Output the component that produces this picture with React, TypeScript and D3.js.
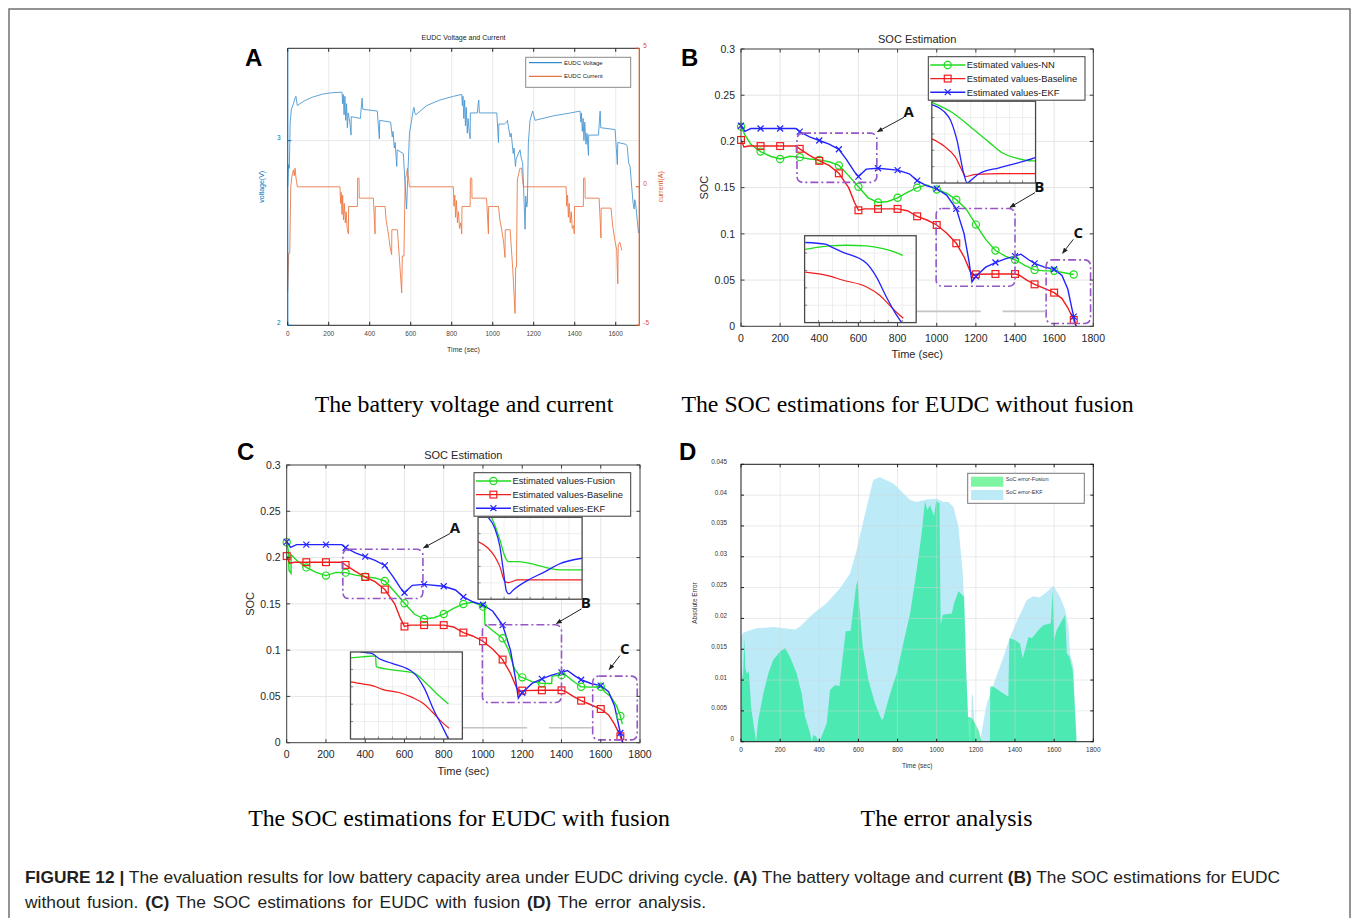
import React from 'react';
import * as d3 from 'd3';

const W = 1357;
const H = 918;
const SANS = "'Liberation Sans', Arial, Helvetica, sans-serif";
const SERIF = "'Liberation Serif', 'Times New Roman', serif";
const NARROW = "'Liberation Sans Narrow', 'Liberation Sans', Arial, sans-serif";

type Pt = [number, number];

// ---- panel A: EUDC voltage / current ----
const eudcVoltage: Pt[] = [
  [0, 2.75], [4, 2.87], [8, 2.85], [12, 3.1], [18, 3.17], [28, 3.2], [36, 3.23], [40, 3.24], [47, 3.19],
  [80, 3.215], [120, 3.235], [170, 3.252], [220, 3.26], [265, 3.262], [268, 3.2], [271, 3.25], [275, 3.14],
  [279, 3.24], [283, 3.11], [287, 3.2], [291, 3.07], [295, 3.15], [300, 3.12], [305, 3.08], [309, 3.03],
  [310, 3.13], [355, 3.12], [358, 3.17], [363, 3.23], [366, 3.17], [437, 3.16], [447, 3.01], [449, 3.11],
  [502, 3.1], [510, 3.02], [514, 3.05], [520, 2.96], [524, 2.99], [532, 2.86], [534, 2.95], [564, 2.93],
  [572, 2.78], [580, 2.63], [585, 2.79], [594, 3.04], [600, 3.08], [613, 3.17], [616, 3.18], [620, 3.15],
  [625, 3.14], [678, 3.19], [743, 3.22], [808, 3.24], [849, 3.25],
  [852, 3.19], [855, 3.24], [859, 3.12], [863, 3.22], [867, 3.08], [871, 3.18], [876, 3.04], [880, 3.12],
  [885, 3.05], [890, 3.01], [891, 3.15], [925, 3.15], [929, 3.2], [932, 3.22], [935, 3.15], [1020, 3.15],
  [1028, 2.99], [1030, 3.09], [1057, 3.09], [1068, 3.1], [1072, 3.11], [1076, 3.08], [1085, 3.02],
  [1090, 3.04], [1100, 2.93], [1104, 2.96], [1111, 2.86], [1114, 2.9], [1133, 2.95], [1140, 2.9],
  [1146, 2.88], [1158, 2.52], [1161, 2.7], [1166, 2.64], [1169, 2.66], [1174, 2.99], [1182, 3.11],
  [1195, 3.16], [1200, 3.14], [1206, 3.11], [1300, 3.135], [1380, 3.15], [1426, 3.16],
  [1430, 3.1], [1433, 3.15], [1437, 3.05], [1441, 3.12], [1445, 3.0], [1449, 3.1], [1455, 2.98],
  [1460, 3.04], [1467, 2.92], [1468, 3.03], [1516, 3.03], [1520, 3.1], [1524, 3.16], [1527, 3.07],
  [1597, 3.06], [1608, 2.87], [1610, 2.99], [1650, 2.98], [1656, 2.97], [1663, 2.88], [1670, 2.86],
  [1678, 2.75], [1685, 2.66], [1690, 2.63], [1693, 2.68], [1697, 2.66], [1704, 2.58], [1711, 2.5],
];
const eudcCurrent: Pt[] = [
  [0, -3.77], [5, -2.4], [10, -2.4], [15, 0], [20, 0.37], [28, 0.61], [32, 0.4], [36, 0.67], [40, 0.35],
  [47, 0], [255, 0], [258, -0.6], [261, -0.2], [265, -1.0], [268, -0.3], [272, -1.2], [276, -0.6],
  [281, -1.3], [285, -0.9], [290, -1.5], [296, -1.7], [297, -0.71], [340, -0.71], [341, 0.31], [348, 0.31],
  [349, -0.41], [418, -0.41], [426, -1.7], [427, -0.71], [475, -0.71], [480, -1.2], [487, -1.5],
  [493, -1.8], [500, -2.2], [507, -2.45], [508, -1.55], [535, -1.55], [545, -2.6], [556, -3.83],
  [559, -2.5], [567, -2.5], [573, 0.3], [580, 0.45], [584, 0.67], [588, 0.4], [594, 0],
  [808, 0], [811, -0.7], [815, -0.3], [819, -1.1], [823, -0.5], [828, -1.3], [833, -0.9], [838, -1.5],
  [844, -1.3], [849, -1.7], [850, -0.71], [890, -0.71], [891, 0.31], [898, 0.31], [899, -0.41],
  [970, -0.41], [979, -1.7], [980, -0.71], [1028, -0.71], [1035, -1.2], [1045, -1.6], [1053, -2.0],
  [1060, -2.55], [1061, -1.55], [1085, -1.55], [1098, -3.0], [1109, -4.57], [1112, -2.9], [1116, -2.9],
  [1120, 0.25], [1133, 0.67], [1141, 0.67], [1145, 0.3], [1150, 0],
  [1358, 0], [1361, -0.7], [1365, -0.3], [1369, -1.1], [1373, -0.6], [1378, -1.3], [1383, -0.9],
  [1388, -1.5], [1394, -1.4], [1398, -1.7], [1399, -0.71], [1442, -0.71], [1443, 0.31], [1450, 0.31],
  [1451, -0.41], [1519, -0.41], [1528, -1.85], [1529, -0.77], [1577, -0.77], [1585, -1.4], [1595, -1.9],
  [1605, -2.3], [1610, -3.5], [1612, -2.1], [1620, -2.0], [1630, -2.3],
];
const timeTicksA = [0, 200, 400, 600, 800, 1000, 1200, 1400, 1600];
const voltTicks = [2, 3];
const currentTicks = [-5, 0, 5];

// ---- panels B and C: SOC estimation ----
const socNN: Pt[] = [
  [0, 0.216], [20, 0.207], [50, 0.197], [100, 0.189], [150, 0.184], [200, 0.181], [250, 0.184],
  [300, 0.183], [350, 0.181], [400, 0.18], [450, 0.178], [500, 0.174], [550, 0.163], [600, 0.151],
  [650, 0.139], [700, 0.134], [750, 0.135], [800, 0.139], [850, 0.145], [900, 0.15], [950, 0.153],
  [1000, 0.148], [1050, 0.144], [1100, 0.137], [1150, 0.127], [1200, 0.11], [1250, 0.094], [1300, 0.082],
  [1350, 0.076], [1400, 0.072], [1450, 0.066], [1500, 0.061], [1550, 0.06], [1600, 0.06], [1650, 0.058],
  [1700, 0.056],
];
const socFusion: Pt[] = [
  [0, 0.2165], [8, 0.208], [12, 0.186], [22, 0.183], [23, 0.203], [50, 0.197], [100, 0.1894], [150, 0.184],
  [200, 0.1805], [250, 0.184], [300, 0.1837], [350, 0.181], [400, 0.1794], [450, 0.178], [500, 0.1747],
  [550, 0.163], [600, 0.1506], [650, 0.139], [700, 0.1336], [750, 0.135], [800, 0.139], [850, 0.145],
  [900, 0.1499], [950, 0.152], [1000, 0.147], [1008, 0.146], [1010, 0.128], [1050, 0.121], [1100, 0.1128],
  [1130, 0.1], [1160, 0.08], [1190, 0.071], [1200, 0.0706], [1250, 0.066], [1300, 0.0641], [1350, 0.064],
  [1352, 0.072], [1400, 0.073], [1410, 0.075], [1450, 0.068], [1500, 0.0605], [1550, 0.06], [1600, 0.0605],
  [1620, 0.055], [1650, 0.05], [1680, 0.04], [1700, 0.0288], [1710, 0.02],
];
const socBaseline: Pt[] = [
  [0, 0.2016], [15, 0.194], [40, 0.195], [100, 0.195], [200, 0.195], [280, 0.195], [300, 0.192],
  [350, 0.185], [400, 0.179], [450, 0.174], [500, 0.1655], [550, 0.15], [580, 0.134], [600, 0.1255],
  [630, 0.127], [700, 0.127], [800, 0.127], [850, 0.125], [900, 0.119], [950, 0.115], [1000, 0.1096],
  [1050, 0.101], [1100, 0.0898], [1140, 0.075], [1170, 0.06], [1185, 0.055], [1200, 0.0563], [1300, 0.0566],
  [1400, 0.0566], [1420, 0.0555], [1460, 0.05], [1500, 0.0454], [1550, 0.041], [1600, 0.0364],
  [1640, 0.03], [1670, 0.02], [1700, 0.0069], [1712, 0],
];
const socEKF: Pt[] = [
  [0, 0.217], [20, 0.211], [50, 0.214], [100, 0.214], [200, 0.214], [280, 0.214], [300, 0.2106],
  [350, 0.205], [400, 0.201], [450, 0.197], [500, 0.1915], [540, 0.18], [580, 0.167], [600, 0.162],
  [640, 0.17], [700, 0.171], [800, 0.169], [860, 0.165], [900, 0.1576], [950, 0.152], [1000, 0.149],
  [1050, 0.142], [1100, 0.127], [1140, 0.1], [1165, 0.07], [1180, 0.048], [1200, 0.054], [1250, 0.064],
  [1300, 0.069], [1350, 0.073], [1400, 0.076], [1430, 0.078], [1470, 0.072], [1500, 0.068], [1550, 0.064],
  [1600, 0.0617], [1640, 0.055], [1670, 0.04], [1690, 0.02], [1700, 0.0105], [1712, 0],
];
const socTimeTicks = [0, 200, 400, 600, 800, 1000, 1200, 1400, 1600, 1800];
const socTicks = [0, 0.05, 0.1, 0.15, 0.2, 0.25, 0.3];
const legendNamesB = ['Estimated values-NN', 'Estimated values-Baseline', 'Estimated values-EKF'];
const legendNamesC = ['Estimated values-Fusion', 'Estimated values-Baseline', 'Estimated values-EKF'];

// zoom regions marked on the SOC plots (time range, soc range)
const zoomBoxes = [
  { t0: 286, t1: 694, lo: 0.1557, hi: 0.209 },
  { t0: 997, t1: 1400, lo: 0.0434, hi: 0.1275 },
  { t0: 1559, t1: 1786, lo: 0.003, hi: 0.0719 },
];
const zoomLabels = ['A', 'B', 'C'];
const labelPos: Pt[] = [[857, 0.2329], [1524, 0.1518], [1723, 0.1023]];
const arrowFrom: Pt[] = [[833, 0.2261], [1502, 0.1446], [1698, 0.0941]];
const arrowTo: Pt[] = [[697, 0.2105], [1374, 0.1287], [1643, 0.079]];
const connectors = [[895, 1225, 0.0162], [1336, 1556, 0.0162]];
const upperInsetBox = { t0: 975, t1: 1505, lo: 0.155, hi: 0.2435 };
const lowerInsetBox = { t0: 325, t1: 895, lo: 0.004, hi: 0.098 };

// inset curves (inset units 0..10)
const upNN: Pt[] = [[0, 9.87], [2, 8.6], [4.06, 6.5], [5.5, 5.0], [6.82, 3.67], [8, 3.1], [9.74, 2.7], [10, 2.7]];
const upEkfB: Pt[] = [[0, 9.58], [1.62, 8.1], [2.44, 5.15], [3.08, 1.14], [3.41, 0], [3.73, 0.3], [4.55, 1.14], [6.49, 1.86], [8.12, 2.4], [10, 3.12]];
const upBaseB: Pt[] = [[0, 5.4], [1.14, 4.56], [2.27, 3.16], [3.08, 1.14], [3.25, 0.8], [4.22, 1.05], [6.82, 1.14], [10, 1.14]];
const lowNN: Pt[] = [[0.06, 8.43], [0.97, 8.63], [2.18, 8.82], [3.7, 8.9], [5.52, 8.82], [7.03, 8.51], [8.09, 8.12], [8.79, 7.73]];
const lowEkfB: Pt[] = [[0.06, 9.22], [1.88, 9.02], [2.33, 8.75], [3.39, 8.12], [5.52, 6.86], [6.42, 5.29], [7.33, 2.94], [8.09, 1.18], [8.7, 0]];
const lowBaseB: Pt[] = [[0.06, 5.8], [2.18, 5.37], [3.39, 4.9], [5.52, 4.12], [6.73, 3.14], [7.64, 1.96], [8.09, 1.37], [8.85, 0.51]];
const upFusion: Pt[] = [[1.29, 10], [1.61, 9.07], [2.1, 7.24], [2.58, 5.2], [2.9, 4.6], [3.81, 4.6], [4.84, 4.4], [6.45, 3.9], [7.74, 3.58], [10, 3.58]];
const upEkfC: Pt[] = [[0.97, 10], [1.61, 8.66], [2.1, 6.42], [2.42, 3.58], [2.74, 0.94], [2.97, 0.65], [3.39, 1.14], [4.84, 2.36], [6.45, 3.37], [7.74, 4.27], [10, 5.0]];
const upBaseC: Pt[] = [[0, 7.03], [0.97, 6.22], [1.61, 5.2], [2.1, 3.98], [2.58, 2.15], [2.9, 2.03], [3.81, 2.36], [4.84, 2.36], [7.74, 2.36], [10, 2.36]];
const lowFusion: Pt[] = [[0, 9.33], [1.04, 9.44], [2.24, 9.55], [2.3, 8.32], [3.73, 7.95], [5.67, 7.57], [6.72, 6.46], [7.91, 4.96], [8.75, 4.03]];
const lowEkfC: Pt[] = [[0.9, 10], [1.94, 9.81], [2.54, 9.25], [3.73, 8.69], [5.67, 7.57], [6.57, 5.9], [7.46, 3.28], [8.21, 1.42], [8.75, 0]];
const lowBaseC: Pt[] = [[0, 6.57], [1.04, 6.34], [2.09, 6.08], [2.84, 5.71], [4.33, 5.34], [5.52, 4.78], [6.57, 4.03], [7.31, 3.1], [8.06, 2.09], [8.81, 1.23]];

// ---- panel D: absolute error ----
const errorEKF: Pt[] = [
  [0, 0.017], [12, 0.0177], [80, 0.0184], [165, 0.0186], [276, 0.0182], [302, 0.0187], [370, 0.0208],
  [438, 0.0225], [506, 0.0249], [557, 0.0273], [591, 0.0311], [642, 0.0381], [676, 0.0425], [710, 0.0429],
  [779, 0.0419], [864, 0.0392], [898, 0.0389], [949, 0.0393], [1000, 0.0394], [1034, 0.0389], [1060, 0.0389],
  [1085, 0.0381], [1111, 0.0349], [1133, 0.0273], [1145, 0.0187], [1153, 0.01], [1162, 0.0019], [1167, 0],
  [1174, 0], [1179, 0.0078], [1185, 0.0074], [1196, 0.0003], [1200, 0], [1222, 0], [1240, 0.0035],
  [1256, 0.0062], [1298, 0.01], [1341, 0.0138], [1375, 0.017], [1409, 0.0195], [1460, 0.023], [1494, 0.0236],
  [1525, 0.0234], [1562, 0.0243], [1596, 0.0253], [1630, 0.0235], [1656, 0.0214], [1673, 0.0187],
  [1681, 0.0143], [1699, 0.0122], [1712, 0],
];
const errorFusion: Pt[] = [
  [0, 0.0125], [10, 0.01], [18, 0.017], [22, 0.012], [30, 0.011], [40, 0.0115], [52, 0.0055], [77, 0],
  [88, 0.0035], [114, 0.0078], [140, 0.0111], [165, 0.0133], [199, 0.0146], [225, 0.0152], [250, 0.0138],
  [284, 0.0111], [310, 0.0078], [327, 0.0041], [353, 0.0014], [361, 0], [370, 0.0011], [385, 0.0008],
  [395, 0], [405, 0.0003], [438, 0.003], [455, 0.0084], [481, 0.0092], [503, 0.009], [518, 0.0133],
  [535, 0.0179], [560, 0.018], [571, 0.0208], [588, 0.0252], [596, 0.0262], [605, 0.0219], [622, 0.0154],
  [651, 0.01], [685, 0.0062], [719, 0.0035], [727, 0.0038], [762, 0.0078], [796, 0.0111], [833, 0.0165],
  [864, 0.0208], [898, 0.0279], [923, 0.0338], [940, 0.039], [952, 0.0376], [966, 0.0384], [986, 0.0366],
  [997, 0.039], [1014, 0.0387], [1020, 0.0189], [1031, 0.0206], [1077, 0.0208], [1089, 0.0225],
  [1111, 0.0244], [1140, 0.0235], [1150, 0.0115], [1160, 0.004], [1170, 0.004], [1187, 0.0035],
  [1213, 0.0019], [1230, 0], [1272, 0], [1273, 0.0089], [1285, 0.009], [1366, 0.0073], [1371, 0.0168],
  [1400, 0.0165], [1426, 0.0159], [1439, 0.0135], [1469, 0.017], [1486, 0.0168], [1520, 0.0181],
  [1545, 0.0189], [1583, 0.0192], [1593, 0.0246], [1600, 0.0165], [1613, 0.0181], [1656, 0.0206],
  [1665, 0.0143], [1678, 0.0138], [1695, 0.0116], [1712, 0.0019], [1715, 0],
];
const errTimeTicks = [0, 200, 400, 600, 800, 1000, 1200, 1400, 1600, 1800];
const errTicks = [0, 0.005, 0.01, 0.015, 0.02, 0.025, 0.03, 0.035, 0.04, 0.045];
const errLegend = ['SoC error-Fusion', 'SoC error-EKF'];

const GREEN = '#1fdc1f';
const RED = '#f21c1c';
const BLUE = '#2323ff';

function PanelA() {
  const left = 287.7, right = 639.3, top = 48.3, bottom = 325.3;
  const x = d3.scaleLinear().domain([0, 1715]).range([left, right]);
  const yV = d3.scaleLinear().domain([2, 3.5]).range([bottom, top]);
  const yI = d3.scaleLinear().domain([-5, 5]).range([bottom, top]);
  const lineV = d3.line<Pt>().x((d) => x(d[0])).y((d) => yV(d[1]));
  const lineI = d3.line<Pt>().x((d) => x(d[0])).y((d) => yI(d[1]));
  const tk = 3.5;
  return (
    <g fontFamily={SANS}>
      <text x={(left + right) / 2} y={39.5} fontSize={7} textAnchor="middle" fill="#222">EUDC Voltage and Current</text>
      {timeTicksA.slice(1).map((t) => (
        <line key={t} x1={x(t)} x2={x(t)} y1={top} y2={bottom} stroke="#e3e3e3" strokeWidth={0.8} />
      ))}
      <line x1={left} x2={right} y1={yV(3)} y2={yV(3)} stroke="#e3e3e3" strokeWidth={0.8} />
      <path d={lineI(eudcCurrent) || ''} fill="none" stroke="#ec7a47" strokeWidth={0.9} />
      <path d={lineV(eudcVoltage) || ''} fill="none" stroke="#4b97d3" strokeWidth={0.9} />
      <line x1={left} x2={right} y1={top} y2={top} stroke="#262626" strokeWidth={1} />
      <line x1={left} x2={right} y1={bottom} y2={bottom} stroke="#262626" strokeWidth={1} />
      <line x1={left} x2={left} y1={top} y2={bottom} stroke="#0072BD" strokeWidth={1.2} />
      <line x1={right} x2={right} y1={top} y2={bottom} stroke="#D95319" strokeWidth={1.2} />
      {timeTicksA.map((t) => (
        <g key={t}>
          <line x1={x(t)} x2={x(t)} y1={bottom} y2={bottom - tk} stroke="#262626" />
          <line x1={x(t)} x2={x(t)} y1={top} y2={top + tk} stroke="#262626" />
          <text x={x(t)} y={bottom + 11} fontSize={6.5} textAnchor="middle" fill="#444">{t}</text>
        </g>
      ))}
      {voltTicks.map((v) => (
        <g key={v}>
          <line x1={left} x2={left + tk} y1={yV(v)} y2={yV(v)} stroke="#0072BD" />
          <text x={left - 7} y={yV(v) - 0.5} fontSize={6.5} textAnchor="end" fill="#0072BD">{v}</text>
        </g>
      ))}
      {currentTicks.map((v) => (
        <g key={v}>
          <line x1={right} x2={right - tk} y1={yI(v)} y2={yI(v)} stroke="#D95319" />
          <text x={right + 4} y={yI(v) - 0.5} fontSize={6.5} fill="#D95319">{v}</text>
        </g>
      ))}
      <text x={(left + right) / 2} y={351.5} fontSize={7} textAnchor="middle" fill="#333">Time (sec)</text>
      <text transform={`translate(264,${(top + bottom) / 2}) rotate(-90)`} fontSize={7} textAnchor="middle" fill="#0072BD">voltage(V)</text>
      <text transform={`translate(663,${(top + bottom) / 2}) rotate(-90)`} fontSize={7} textAnchor="middle" fill="#D95319">current(A)</text>
      <rect x={525.7} y={57.3} width={105} height={30} fill="#fff" stroke="#8a8a8a" strokeWidth={1} />
      <line x1={529} x2={562} y1={62.7} y2={62.7} stroke="#0072BD" strokeWidth={1} />
      <line x1={529} x2={562} y1={76.3} y2={76.3} stroke="#D95319" strokeWidth={1} />
      <text x={564} y={64.7} fontSize={6} fill="#222">EUDC Voltage</text>
      <text x={564} y={78.3} fontSize={6} fill="#222">EUDC Current</text>
    </g>
  );
}

function Marker({ kind, cx, cy, color }: { kind: string; cx: number; cy: number; color: string }) {
  if (kind === 'circle') return <circle cx={cx} cy={cy} r={3.6} fill="none" stroke={color} strokeWidth={1.2} />;
  if (kind === 'square') return <rect x={cx - 3.4} y={cy - 3.4} width={6.8} height={6.8} fill="none" stroke={color} strokeWidth={1.2} />;
  return <path d={`M${cx - 3},${cy - 3}L${cx + 3},${cy + 3}M${cx - 3},${cy + 3}L${cx + 3},${cy - 3}`} stroke={color} strokeWidth={1.2} />;
}

type Box = { t0: number; t1: number; lo: number; hi: number };

function Inset({ id, box, x, y, green, red, blue }: {
  id: string; box: Box; x: d3.ScaleLinear<number, number>; y: d3.ScaleLinear<number, number>;
  green: Pt[]; red: Pt[]; blue: Pt[];
}) {
  const x0 = x(box.t0), x1 = x(box.t1), y0 = y(box.hi), y1 = y(box.lo);
  const sx = d3.scaleLinear().domain([0, 10]).range([x0, x1]);
  const sy = d3.scaleLinear().domain([0, 10]).range([y1, y0]);
  const line = d3.line<Pt>().x((d) => sx(d[0])).y((d) => sy(d[1])).curve(d3.curveMonotoneX);
  const gx = d3.range(1, 8).map((i) => (i * 10) / 8);
  const gy = d3.range(1, 5).map((i) => (i * 10) / 5);
  return (
    <g>
      <defs>
        <clipPath id={id}><rect x={x0} y={y0} width={x1 - x0} height={y1 - y0} /></clipPath>
      </defs>
      <rect x={x0} y={y0} width={x1 - x0} height={y1 - y0} fill="#fff" />
      {gx.map((g) => <line key={'x' + g} x1={sx(g)} x2={sx(g)} y1={y0} y2={y1} stroke="#e6e6e6" strokeWidth={0.7} />)}
      {gy.map((g) => <line key={'y' + g} x1={x0} x2={x1} y1={sy(g)} y2={sy(g)} stroke="#e6e6e6" strokeWidth={0.7} />)}
      {gx.map((g) => <line key={'tx' + g} x1={sx(g)} x2={sx(g)} y1={y1} y2={y1 - 2.5} stroke="#555" strokeWidth={0.7} />)}
      {gy.map((g) => <line key={'ty' + g} x1={x0} x2={x0 + 2.5} y1={sy(g)} y2={sy(g)} stroke="#555" strokeWidth={0.7} />)}
      <g clipPath={`url(#${id})`}>
        <path d={line(green) || ''} fill="none" stroke={GREEN} strokeWidth={1.3} />
        <path d={line(red) || ''} fill="none" stroke={RED} strokeWidth={1.2} />
        <path d={line(blue) || ''} fill="none" stroke={BLUE} strokeWidth={1.3} />
      </g>
      <rect x={x0} y={y0} width={x1 - x0} height={y1 - y0} fill="none" stroke="#4a4a4a" strokeWidth={1.3} />
    </g>
  );
}

function SocPanel({ id, left, right, top, bottom, green, names, upper, lower }: {
  id: string; left: number; right: number; top: number; bottom: number; green: Pt[]; names: string[];
  upper: Pt[][]; lower: Pt[][];
}) {
  const x = d3.scaleLinear().domain([0, 1800]).range([left, right]);
  const y = d3.scaleLinear().domain([0, 0.3]).range([bottom, top]);
  const line = d3.line<Pt>().x((d) => x(d[0])).y((d) => y(d[1]));
  const series = [
    { data: green, color: GREEN, kind: 'circle' },
    { data: socBaseline, color: RED, kind: 'square' },
    { data: socEKF, color: BLUE, kind: 'x' },
  ];
  const tk = 3.5;
  const lx = left + 187.3, ly = top + 7.7;
  return (
    <g fontFamily={SANS}>
      <defs>
        <clipPath id={id + 'clip'}><rect x={left} y={top} width={right - left} height={bottom - top} /></clipPath>
      </defs>
      <text x={(left + right) / 2} y={top - 6} fontSize={11} textAnchor="middle" fill="#262626">SOC Estimation</text>
      {socTimeTicks.slice(1, -1).map((t) => (
        <line key={t} x1={x(t)} x2={x(t)} y1={top} y2={bottom} stroke="#e5e5e5" strokeWidth={1} />
      ))}
      {socTicks.slice(1, -1).map((v) => (
        <line key={v} x1={left} x2={right} y1={y(v)} y2={y(v)} stroke="#e5e5e5" strokeWidth={1} />
      ))}
      <g clipPath={`url(#${id}clip)`}>
        {series.map((s) => (
          <path key={s.color} d={line(s.data) || ''} fill="none" stroke={s.color} strokeWidth={1.4} />
        ))}
      </g>
      {series.map((s) => (
        <g key={s.color + 'm'}>
          {s.data.filter((d) => d[0] % 100 === 0).map((d) => (
            <Marker key={d[0]} kind={s.kind} cx={x(d[0])} cy={y(d[1])} color={s.color} />
          ))}
        </g>
      ))}
      {zoomBoxes.map((b, i) => (
        <rect key={i} x={x(b.t0)} y={y(b.hi)} width={x(b.t1) - x(b.t0)} height={y(b.lo) - y(b.hi)} rx={6}
          fill="none" stroke="#9657c6" strokeWidth={1.6} strokeDasharray="8,3,2,3" />
      ))}
      {zoomLabels.map((n, i) => (
        <g key={n}>
          <line x1={x(arrowFrom[i][0])} y1={y(arrowFrom[i][1])} x2={x(arrowTo[i][0])} y2={y(arrowTo[i][1])}
            stroke="#222" strokeWidth={1} markerEnd="url(#arrowHead)" />
          <text x={x(labelPos[i][0])} y={y(labelPos[i][1]) + 6} fontSize={15} fontWeight="bold" textAnchor="middle" fill="#111"
            fontFamily="'Open Sans', 'Liberation Sans', sans-serif">{n}</text>
        </g>
      ))}
      {connectors.map((c, i) => (
        <line key={i} x1={x(c[0])} x2={x(c[1])} y1={y(c[2])} y2={y(c[2])} stroke="#c4c4c4" strokeWidth={1.6} />
      ))}
      <Inset id={id + 'up'} box={upperInsetBox} x={x} y={y} green={upper[0]} red={upper[1]} blue={upper[2]} />
      <Inset id={id + 'low'} box={lowerInsetBox} x={x} y={y} green={lower[0]} red={lower[1]} blue={lower[2]} />
      <rect x={lx} y={ly} width={156.7} height={43.5} fill="#fff" stroke="#3a3a3a" strokeWidth={1} />
      {series.map((s, i) => (
        <g key={s.color + 'l'}>
          <line x1={lx + 2} x2={lx + 37} y1={ly + 8.3 + i * 13.6} y2={ly + 8.3 + i * 13.6} stroke={s.color} strokeWidth={1.4} />
          <Marker kind={s.kind} cx={lx + 19.4} cy={ly + 8.3 + i * 13.6} color={s.color} />
          <text x={lx + 38.4} y={ly + 11.6 + i * 13.6} fontSize={9.4} fill="#222">{names[i]}</text>
        </g>
      ))}
      <rect x={left} y={top} width={right - left} height={bottom - top} fill="none" stroke="#3d3d3d" strokeWidth={1} />
      {socTimeTicks.map((t) => (
        <g key={t}>
          <line x1={x(t)} x2={x(t)} y1={bottom} y2={bottom - tk} stroke="#3d3d3d" />
          <line x1={x(t)} x2={x(t)} y1={top} y2={top + tk} stroke="#3d3d3d" />
          <text x={x(t)} y={bottom + 15.5} fontSize={10.5} textAnchor="middle" fill="#262626">{t}</text>
        </g>
      ))}
      {socTicks.map((v) => (
        <g key={v}>
          <line x1={left} x2={left + tk} y1={y(v)} y2={y(v)} stroke="#3d3d3d" />
          <line x1={right} x2={right - tk} y1={y(v)} y2={y(v)} stroke="#3d3d3d" />
          <text x={left - 6} y={y(v) + 3.7} fontSize={10.5} textAnchor="end" fill="#262626">{String(+v.toFixed(2))}</text>
        </g>
      ))}
      <text x={(left + right) / 2} y={bottom + 32} fontSize={11} textAnchor="middle" fill="#262626">Time (sec)</text>
      <text transform={`translate(${left - 33},${(top + bottom) / 2}) rotate(-90)`} fontSize={11} textAnchor="middle" fill="#262626">SOC</text>
    </g>
  );
}

function PanelD() {
  const left = 741, right = 1093.3, top = 464.3, bottom = 741.7;
  const x = d3.scaleLinear().domain([0, 1800]).range([left, right]);
  const y = d3.scaleLinear().domain([0, 0.045]).range([bottom, top]);
  const area = d3.area<Pt>().x((d) => x(d[0])).y0(y(0)).y1((d) => y(d[1]));
  const tk = 3;
  return (
    <g fontFamily={SANS}>
      <path d={area(errorEKF) || ''} fill="#bdeaf7" />
      <path d={area(errorFusion) || ''} fill="#1ee896" fillOpacity={0.7} />
      {errTimeTicks.slice(1, -1).map((t) => (
        <line key={t} x1={x(t)} x2={x(t)} y1={top} y2={bottom} stroke="#cfd6d6" strokeOpacity={0.6} strokeWidth={0.8} />
      ))}
      {errTicks.slice(1, -1).map((v) => (
        <line key={v} x1={left} x2={right} y1={y(v)} y2={y(v)} stroke="#cfd6d6" strokeOpacity={0.6} strokeWidth={0.8} />
      ))}
      <rect x={left} y={top} width={right - left} height={bottom - top} fill="none" stroke="#1a1a1a" strokeWidth={1} />
      {errTimeTicks.map((t) => (
        <g key={t}>
          <line x1={x(t)} x2={x(t)} y1={bottom} y2={bottom - tk} stroke="#1a1a1a" />
          <line x1={x(t)} x2={x(t)} y1={top} y2={top + tk} stroke="#1a1a1a" />
          <text x={x(t)} y={bottom + 10.5} fontSize={6.5} textAnchor="middle" fill="#333">{t}</text>
        </g>
      ))}
      {errTicks.map((v) => (
        <g key={v}>
          <line x1={left} x2={left + tk} y1={y(v)} y2={y(v)} stroke="#1a1a1a" />
          <line x1={right} x2={right - tk} y1={y(v)} y2={y(v)} stroke="#1a1a1a" />
          <text x={v === 0 ? left - 7 : left - 14} y={y(v) - 0.5} fontSize={6.3} textAnchor="end" fill="#333">{String(+v.toFixed(3))}</text>
        </g>
      ))}
      <text x={(left + right) / 2} y={767.5} fontSize={6.5} textAnchor="middle" fill="#333">Time (sec)</text>
      <text transform={`translate(697,${(top + bottom) / 2}) rotate(-90)`} fontSize={6.5} textAnchor="middle" fill="#333">Absolute Error</text>
      <rect x={967.7} y={473.3} width={116.6} height={30} fill="#fff" stroke="#777" strokeWidth={1} />
      <rect x={971} y={476.7} width={32.3} height={10} fill="#7ef5a2" />
      <rect x={971} y={490} width={32.3} height={10} fill="#bdeaf7" />
      <text x={1005.7} y={480.8} fontSize={5.6} fill="#333">{errLegend[0]}</text>
      <text x={1005.7} y={494.4} fontSize={5.6} fill="#333">{errLegend[1]}</text>
    </g>
  );
}

export default function App() {
  return (
    <svg width={W} height={H} viewBox={`0 0 ${W} ${H}`} style={{ position: 'absolute', left: 0, top: 0 }}>
      <defs>
        <marker id="arrowHead" viewBox="0 0 10 10" refX="9" refY="5" markerWidth="6" markerHeight="6" orient="auto">
          <path d="M0,1 L10,5 L0,9 z" fill="#222" />
        </marker>
      </defs>
      <rect width={W} height={H} fill="#fff" />
      <path d={`M9,${H} V9 H1350 V${H}`} fill="none" stroke="#707070" strokeWidth={1.5} />

      <PanelA />
      <SocPanel id="b" left={741} right={1093.3} top={49} bottom={326.3} green={socNN} names={legendNamesB}
        upper={[upNN, upBaseB, upEkfB]} lower={[lowNN, lowBaseB, lowEkfB]} />
      <SocPanel id="c" left={286.7} right={640} top={465} bottom={742.7} green={socFusion} names={legendNamesC}
        upper={[upFusion, upBaseC, upEkfC]} lower={[lowFusion, lowBaseC, lowEkfC]} />
      <PanelD />

      <g fontFamily={SANS} fontWeight="bold" fontSize={24} fill="#000">
        <text x={245} y={66}>A</text>
        <text x={681} y={66}>B</text>
        <text x={237} y={460}>C</text>
        <text x={679} y={460}>D</text>
      </g>

      <g fontFamily={SERIF} fontSize={23.8} fill="#000" textAnchor="middle">
        <text x={464} y={411.5}>The battery voltage and current</text>
        <text x={907.5} y={411.5}>The SOC estimations for EUDC without fusion</text>
        <text x={459} y={826}>The SOC estimations for EUDC with fusion</text>
        <text x={946.5} y={826}>The error analysis</text>
      </g>

      <g fontFamily={NARROW} fill="#231f20">
        <text x={25} y={883} fontSize={17.35}>
          <tspan fontWeight="bold">FIGURE 12 |</tspan> The evaluation results for low battery capacity area under EUDC driving cycle. <tspan fontWeight="bold">(A)</tspan> The battery voltage and current <tspan fontWeight="bold">(B)</tspan> The SOC estimations for EUDC
        </text>
        <text x={25} y={907.5} fontSize={17.4} wordSpacing={2.1}>
          without fusion. <tspan fontWeight="bold">(C)</tspan> The SOC estimations for EUDC with fusion <tspan fontWeight="bold">(D)</tspan> The error analysis.
        </text>
      </g>
    </svg>
  );
}
